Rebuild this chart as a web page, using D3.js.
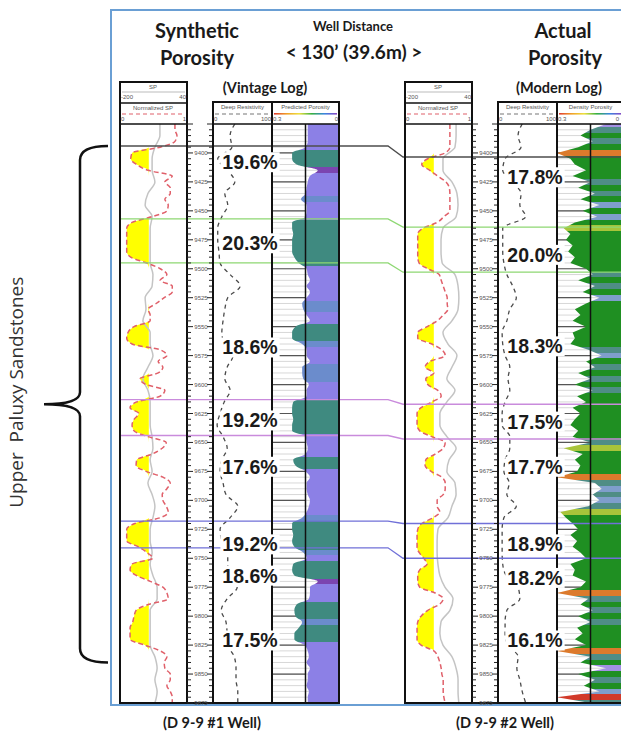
<!DOCTYPE html>
<html lang="en">
<head>
<meta charset="UTF-8">
<title>Synthetic vs Actual Porosity</title>
<script src="https://cdnjs.cloudflare.com/ajax/libs/d3/7.8.5/d3.min.js"></script>
<style>
  body { margin: 0; background: #fff; }
  svg { display: block; }
  .head { font-family: Lato, "Open Sans", sans-serif; font-weight: bold; fill: #1a1a1a; text-anchor: middle; }
  .tiny { font-family: "Liberation Sans", Arial, sans-serif; font-size: 6px; fill: #555; }
  .pct { font-family: "Liberation Sans", Arial, sans-serif; font-weight: bold; font-size: 19.5px; fill: #1a1a1a; text-anchor: middle; }
</style>
</head>
<body>
<svg id="chart" width="621" height="732"></svg>
<script>
// depth ticks (ft)
const depthLabels = [9400, 9425, 9450, 9475, 9500, 9525, 9550, 9575, 9600, 9625, 9650,
                     9675, 9700, 9725, 9750, 9775, 9800, 9825, 9850, 9875];

// well #1 (vintage log) -- 5 ft samples from 9375 ft
const leftNormSP = [0.82,0.82,0.85,0.82,0.60, 0.18,0.16,0.25,0.42,0.78, 0.67,0.75,0.75,0.67,0.72,
  0.70,0.48,0.18,0.10,0.10, 0.10,0.10,0.10,0.16,0.40, 0.60,0.70,0.60,0.78,0.78,
  0.66,0.54,0.42,0.45,0.45, 0.21,0.12,0.10,0.18,0.60, 0.70,0.57,0.64,0.57,0.30,
  0.39,0.67,0.60,0.25,0.15, 0.28,0.21,0.18,0.21,0.42, 0.69,0.63,0.48,0.25,0.24,
  0.39,0.64,0.75,0.70,0.63, 0.64,0.69,0.72,0.60,0.22, 0.10,0.10,0.10,0.27,0.40,
  0.49,0.18,0.15,0.25,0.45, 0.64,0.70,0.72,0.42,0.24, 0.21,0.19,0.15,0.15,0.15,
  0.37,0.60,0.70,0.66,0.67, 0.75,0.75,0.70,0.75,0.78, 0.78];
const leftPor = [0.14,0.14,0.14,0.14,0.15, 0.21,0.21,0.19,0.095,0.13, 0.14,0.145,0.15,0.17,0.145,
  0.145,0.15,0.21,0.21,0.205, 0.21,0.21,0.21,0.20,0.18, 0.145,0.14,0.13,0.145,0.13,
  0.145,0.165,0.16,0.145,0.13, 0.195,0.21,0.21,0.165,0.145, 0.145,0.13,0.165,0.165,0.16,
  0.135,0.145,0.145,0.205,0.21, 0.21,0.205,0.21,0.21,0.15, 0.145,0.14,0.15,0.205,0.195,
  0.15,0.13,0.145,0.145,0.14, 0.13,0.135,0.145,0.165,0.21, 0.21,0.205,0.21,0.20,0.16,
  0.145,0.205,0.21,0.20,0.095, 0.13,0.13,0.135,0.19,0.20, 0.195,0.165,0.18,0.20,0.20,
  0.155,0.14,0.135,0.145,0.13, 0.14,0.14,0.145,0.135,0.14, 0.14];
// 10 ft samples from 9375 ft
const leftSP = [-57,-57,-75,-85,-85, -75,-100,-110,-85,-92, -92,-92,-92,-82,-85,
  -110,-107,-118,-92,-92, -82,-100,-118,-100,-92, -92,-92,-85,-82,-92,
  -85,-100,-85,-75,-82, -92,-92,-85,-92,-82, -67,-67,-92,-92,-92, -92,-75,-67,-75,-67, -75];
const leftRes = [37,29,32,8,25, 37,20,25,15,8, 8,10,12,29,46, 25,20,17,15,19, 34,24,20,29,19,
  12,7,17,24,15, 12,17,22,42,29, 12,15,25,25,29, 41,24,14,22,24, 25,36,39,39,42, 42];

// well #2 (modern log)
const rightNormSP = [0.67,0.67,0.67,0.67,0.67, 0.60,0.34,0.25,0.37,0.49, 0.61,0.66,0.67,0.67,0.67,
  0.67,0.58,0.48,0.27,0.19, 0.19,0.19,0.19,0.19,0.21, 0.34,0.51,0.54,0.57,0.60,
  0.63,0.63,0.64,0.57,0.48, 0.33,0.19,0.19,0.40,0.55, 0.60,0.37,0.30,0.43,0.31,
  0.34,0.49,0.54,0.40,0.24, 0.18,0.18,0.18,0.22,0.40, 0.60,0.57,0.45,0.31,0.30,
  0.39,0.55,0.60,0.60,0.57, 0.48,0.48,0.52,0.42,0.25, 0.19,0.18,0.18,0.18,0.21,
  0.28,0.33,0.22,0.19,0.19, 0.22,0.45,0.57,0.51,0.34, 0.24,0.19,0.18,0.18,0.18,
  0.24,0.43,0.49,0.52,0.54, 0.55,0.57,0.57,0.57,0.58, 0.60];
const rightDen = [0.08,0.15,0.195,0.14,0.205, 0.30,0.24,0.22,0.17,0.23, 0.15,0.205,0.13,0.195,0.11,
  0.185,0.12,0.22,0.27,0.24, 0.26,0.23,0.25,0.22,0.24, 0.17,0.14,0.205,0.13,0.185,
  0.11,0.17,0.22,0.195,0.23, 0.17,0.23,0.22,0.24,0.16, 0.10,0.17,0.13,0.205,0.15,
  0.22,0.14,0.21,0.17,0.23, 0.195,0.22,0.24,0.205,0.23, 0.15,0.27,0.185,0.22,0.195,
  0.21,0.30,0.13,0.10,0.14, 0.11,0.16,0.285,0.26,0.23, 0.205,0.24,0.21,0.23,0.195,
  0.17,0.24,0.22,0.23,0.17, 0.195,0.30,0.16,0.195,0.14, 0.205,0.15,0.21,0.185,0.22,
  0.17,0.30,0.15,0.195,0.08, 0.205,0.13,0.18,0.11,0.31, 0.15];
const rightSP = [-17,-17,-21,-64,-64, -32,-14,-10,-17,-64, -71,-71,-67,-21,-10,
  -7,-10,-32,-64,-46, -14,-32,-50,-21,-50, -75,-75,-50,-17,-42,
  -50,-21,-17,-32,-46, -82,-85,-85,-82,-75, -57,-28,-39,-71,-75, -64,-32,-17,-10,-10, -7];
const rightRes = [41,34,39,12,8, 24,39,37,47,8, 8,8,10,15,25, 31,20,15,7,8, 12,20,17,20,12,
  7,7,20,20,12, 10,19,15,31,10, 7,7,7,8,14, 34,37,15,12,12, 17,34,32,37,41, 47];

// sand intervals: average porosity and depth of label
const leftZoneLabels = ["19.6%", "20.3%", "18.6%", "19.2%", "17.6%", "19.2%", "18.6%", "17.5%"];
const leftZoneDepths = [9408, 9478, 9568, 9631, 9671, 9738, 9765, 9821];
const rightZoneLabels = ["17.8%", "20.0%", "18.3%", "17.5%", "17.7%", "18.9%", "18.2%", "16.1%"];
const rightZoneDepths = [9421, 9488, 9567, 9632, 9671, 9738, 9767, 9821];

// correlation markers
const leftMarkerDepths = [9394, 9457, 9495, 9613, 9644, 9718, 9741];
const rightMarkerDepths = [9403.5, 9464, 9503, 9617, 9647, 9720, 9750];
const markerColors = ["#4d4d4d", "#8ed873", "#8ed873", "#c98bdc", "#c98bdc", "#7070d8", "#7070d8"];

const spCutoff = 0.43;

const svg = d3.select("#chart");
const defs = svg.append("defs");
const y = d3.scaleLinear().domain([9375, 9875]).range([124, 703]);
const depth5 = d3.range(9375, 9876, 5);
const depth10 = d3.range(9375, 9876, 10);

const leftPorColor = d3.scaleThreshold().domain([0.11, 0.16, 0.175])
  .range(["#7b45b0", "#8c80e6", "#6b8ccc", "#3f8a80"]);
const rightPorColor = d3.scaleThreshold().domain([0.09, 0.125, 0.165, 0.265, 0.295, 0.305])
  .range(["#a391e4", "#7f9ecc", "#4f8d86", "#1f8f22", "#a8c43a", "#dc7a2c", "#d23a2a"]);

// rainbow used in the header keys
const rainbow = defs.append("linearGradient").attr("id", "rainbow");
["#e03a30", "#f0a028", "#eee040", "#36b040", "#3a86e0", "#8a46c4"].forEach((c, i, a) => {
  rainbow.append("stop").attr("offset", i / (a.length - 1)).attr("stop-color", c);
});

// outer frame
svg.append("rect").attr("x", 111).attr("y", 10).attr("width", 530).attr("height", 695)
  .attr("fill", "none").attr("stroke", "#6a9fd4").attr("stroke-width", 2);

const wells = [
  { ox: 0, id: "w1", nsp: leftNormSP, sp: leftSP, res: leftRes, por: leftPor, porName: "Predicted Porosity",
    color: leftPorColor, curve: d3.curveMonotoneY, zones: leftZoneLabels, zoneDepths: leftZoneDepths },
  { ox: 285, id: "w2", nsp: rightNormSP, sp: rightSP, res: rightRes, por: rightDen, porName: "Density Porosity",
    color: rightPorColor, curve: d3.curveLinear, zones: rightZoneLabels, zoneDepths: rightZoneDepths }
];

wells.forEach(w => {
  const xl = 120 + w.ox;
  w.xNsp = d3.scaleLinear().domain([0, 1]).range([xl, xl + 67]);
  w.xSp = d3.scaleLinear().domain([-200, 40]).range([xl, xl + 67]);
  w.xRes = d3.scaleLinear().domain([0, 100]).range([xl + 93, xl + 152]);
  w.xPor = d3.scaleLinear().domain([0.3, 0]).range([xl + 152, xl + 219]).clamp(true);
  w.xl = xl;
});

function drawCurves(w) {
  const g = svg.append("g");
  const y0 = y.range()[0], span = y.range()[1] - y.range()[0];

  // porosity grid
  g.selectAll(".hatch").data(depth5).join("line")
    .attr("x1", w.xPor(0.3)).attr("x2", w.xPor(0))
    .attr("y1", d => y(d)).attr("y2", d => y(d))
    .attr("stroke", "#cdcdcd").attr("stroke-width", 0.8);
  g.selectAll(".hatch25").data(depthLabels).join("line")
    .attr("x1", w.xPor(0.3)).attr("x2", w.xPor(0.15))
    .attr("y1", d => y(d)).attr("y2", d => y(d))
    .attr("stroke", "#555").attr("stroke-width", 1.2);

  // porosity fill coloured by value
  const grad = defs.append("linearGradient").attr("id", "por-" + w.id)
    .attr("gradientUnits", "userSpaceOnUse")
    .attr("x1", 0).attr("x2", 0).attr("y1", y.range()[0]).attr("y2", y.range()[1]);
  w.por.forEach((v, i) => {
    const d = depth5[i];
    const a = i === 0 ? y(d) : y(d - 2.5);
    const b = i === w.por.length - 1 ? y(d) : y(d + 2.5);
    grad.append("stop").attr("offset", (a - y0) / span).attr("stop-color", w.color(v));
    grad.append("stop").attr("offset", (b - y0) / span).attr("stop-color", w.color(v));
  });
  const porPts = w.por.map((v, i) => ({ d: depth5[i], v }));
  g.append("path").datum(porPts)
    .attr("d", d3.area().curve(w.curve).y(p => y(p.d)).x0(w.xPor(0)).x1(p => w.xPor(p.v)))
    .attr("fill", `url(#por-${w.id})`);

  // SP track
  const nspPts = w.nsp.map((v, i) => ({ d: depth5[i], v }));
  g.append("path").datum(nspPts)
    .attr("d", d3.area().curve(d3.curveMonotoneY).y(p => y(p.d))
      .x0(w.xNsp(spCutoff)).x1(p => w.xNsp(Math.min(p.v, spCutoff))))
    .attr("fill", "#ffff00");
  g.append("path").datum(w.sp.map((v, i) => ({ d: depth10[i], v })))
    .attr("d", d3.line().curve(d3.curveMonotoneY).y(p => y(p.d)).x(p => w.xSp(p.v)))
    .attr("fill", "none").attr("stroke", "#c4c4c4").attr("stroke-width", 1.5);
  g.append("path").datum(nspPts)
    .attr("d", d3.line().curve(d3.curveMonotoneY).y(p => y(p.d)).x(p => w.xNsp(p.v)))
    .attr("fill", "none").attr("stroke", "#e0606a").attr("stroke-width", 1.5)
    .attr("stroke-dasharray", "5,3");

  // resistivity
  g.append("path").datum(w.res.map((v, i) => ({ d: depth10[i], v })))
    .attr("d", d3.line().curve(d3.curveMonotoneY).y(p => y(p.d)).x(p => w.xRes(p.v)))
    .attr("fill", "none").attr("stroke", "#4a4a4a").attr("stroke-width", 1.3)
    .attr("stroke-dasharray", "4,4");
}

function drawFrame(w) {
  const g = svg.append("g");
  const xl = w.xl, bot = y.range()[1], top = y.range()[0];
  const line = (x1, y1, x2, y2, sw) => g.append("line")
    .attr("x1", x1).attr("y1", y1).attr("x2", x2).attr("y2", y2)
    .attr("stroke", "#111").attr("stroke-width", sw || 2);

  // SP track with header
  g.append("rect").attr("x", xl).attr("y", 82).attr("width", 67).attr("height", bot - 82)
    .attr("fill", "none").attr("stroke", "#111").attr("stroke-width", 2);
  line(xl, 103, xl + 67, 103, 1.5);
  line(xl, top, xl + 67, top, 1.5);
  g.append("line").attr("x1", xl + 2).attr("x2", xl + 65).attr("y1", 92).attr("y2", 92)
    .attr("stroke", "#bbb").attr("stroke-width", 1);
  g.append("text").attr("class", "tiny").attr("x", xl + 33).attr("y", 89).attr("text-anchor", "middle").text("SP");
  g.append("text").attr("class", "tiny").attr("x", xl + 1).attr("y", 99).text("-200");
  g.append("text").attr("class", "tiny").attr("x", xl + 66).attr("y", 99).attr("text-anchor", "end").text("40");
  g.append("text").attr("class", "tiny").attr("x", xl + 33).attr("y", 110).attr("text-anchor", "middle").text("Normalized SP");
  g.append("line").attr("x1", xl + 2).attr("x2", xl + 65).attr("y1", 114).attr("y2", 114)
    .attr("stroke", "#e0606a").attr("stroke-width", 1.2).attr("stroke-dasharray", "4,3");
  g.append("text").attr("class", "tiny").attr("x", xl + 1).attr("y", 121).text("0");
  g.append("text").attr("class", "tiny").attr("x", xl + 66).attr("y", 121).attr("text-anchor", "end").text("1");

  // depth track
  const dx0 = xl + 67, dx1 = xl + 93;
  line(dx1, 102, dx1, bot);
  line(dx0, bot, dx1, bot);
  g.selectAll(".tl").data(depth5).join("line")
    .attr("x1", dx0).attr("x2", d => dx0 + (d % 25 === 0 ? 6 : 4))
    .attr("y1", d => y(d)).attr("y2", d => y(d)).attr("stroke", "#222").attr("stroke-width", 1);
  g.selectAll(".tr").data(depth5).join("line")
    .attr("x1", dx1).attr("x2", d => dx1 - (d % 25 === 0 ? 6 : 4))
    .attr("y1", d => y(d)).attr("y2", d => y(d)).attr("stroke", "#222").attr("stroke-width", 1);
  g.selectAll(".dl").data(depthLabels).join("text")
    .attr("class", "tiny").attr("x", (dx0 + dx1) / 2 + 1).attr("y", d => y(d) + 2)
    .attr("text-anchor", "middle").attr("font-size", "5.5px").attr("fill", "#333")
    .text(d => d);

  // resistivity + porosity tracks
  const rx = w.xRes(0), px = w.xPor(0.3), pr = w.xPor(0);
  g.append("rect").attr("x", rx).attr("y", 102).attr("width", pr - rx).attr("height", bot - 102)
    .attr("fill", "none").attr("stroke", "#111").attr("stroke-width", 2);
  line(rx, top, pr, top, 1.5);
  line(px, 102, px, bot);
  line(w.xPor(0.15), top, w.xPor(0.15), bot, 1.5);
  g.append("text").attr("class", "tiny").attr("x", (rx + px) / 2).attr("y", 109).attr("text-anchor", "middle").text("Deep Resistivity");
  g.append("line").attr("x1", rx + 2).attr("x2", px - 2).attr("y1", 114).attr("y2", 114)
    .attr("stroke", "#777").attr("stroke-width", 1.2).attr("stroke-dasharray", "4,3");
  g.append("text").attr("class", "tiny").attr("x", rx + 1).attr("y", 121).text("0");
  g.append("text").attr("class", "tiny").attr("x", px - 1).attr("y", 121).attr("text-anchor", "end").text("100");
  g.append("text").attr("class", "tiny").attr("x", (px + pr) / 2).attr("y", 109).attr("text-anchor", "middle").text(w.porName);
  g.append("rect").attr("x", px + 2).attr("y", 113).attr("width", pr - px - 4).attr("height", 1.6).attr("fill", "url(#rainbow)");
  g.append("text").attr("class", "tiny").attr("x", px + 1).attr("y", 121).text("0.3");
  g.append("text").attr("class", "tiny").attr("x", Math.min(pr - 1, 619)).attr("y", 121).attr("text-anchor", "end").text("0");

  // interval porosity labels
  w.zones.forEach((t, i) => {
    const lg = g.append("g");
    const txt = lg.append("text").attr("class", "pct")
      .attr("x", rx + 37).attr("y", y(w.zoneDepths[i]) + 7).text(t);
    const bb = txt.node().getBBox();
    lg.insert("rect", "text").attr("x", bb.x - 2).attr("y", bb.y + 1)
      .attr("width", bb.width + 4).attr("height", bb.height - 2).attr("fill", "#fff");
  });
}

wells.forEach(drawCurves);

// correlation lines between the two wells
markerColors.forEach((c, i) => {
  const yl = y(leftMarkerDepths[i]), yr = y(rightMarkerDepths[i]);
  svg.append("path")
    .attr("d", d3.line()([[wells[0].xl, yl], [388, yl], [403, yr], [621, yr]]))
    .attr("fill", "none").attr("stroke", c).attr("stroke-width", 1.3);
});

wells.forEach(drawFrame);

// titles
const head = (x, yy, size, t) => svg.append("text").attr("class", "head")
  .attr("x", x).attr("y", yy).attr("font-size", size + "px").text(t);
head(197, 38, 20, "Synthetic");
head(197, 65, 20, "Porosity");
head(265, 93, 14.5, "(Vintage Log)");
head(353, 31, 13, "Well Distance");
head(354, 59, 19, "< 130\u2019 (39.6m) >");
head(563, 38, 20, "Actual");
head(565, 65, 20, "Porosity");
head(559, 93, 14.5, "(Modern Log)");
head(212, 728, 14.5, "(D 9-9 #1 Well)");
head(505, 728, 14.5, "(D 9-9 #2 Well)");

// bracket for the interval
const bTop = y(leftMarkerDepths[0]), bBot = y(9840), bMid = (bTop + bBot) / 2;
svg.append("path")
  .attr("d", `M108,${bTop} Q80,${bTop} 80,${bTop + 14} L80,${bMid - 12} Q80,${bMid} 44,${bMid}` +
             ` Q80,${bMid} 80,${bMid + 12} L80,${bBot - 14} Q80,${bBot} 108,${bBot}`)
  .attr("fill", "none").attr("stroke", "#111").attr("stroke-width", 2.5);
svg.append("text")
  .attr("transform", `translate(23,${bMid - 12}) rotate(-90)`)
  .attr("text-anchor", "middle").attr("font-family", "'Open Sans', Lato, sans-serif")
  .attr("font-size", "19px").attr("fill", "#333")
  .attr("xml:space", "preserve").text("Upper  Paluxy Sandstones");
</script>
</body>
</html>
